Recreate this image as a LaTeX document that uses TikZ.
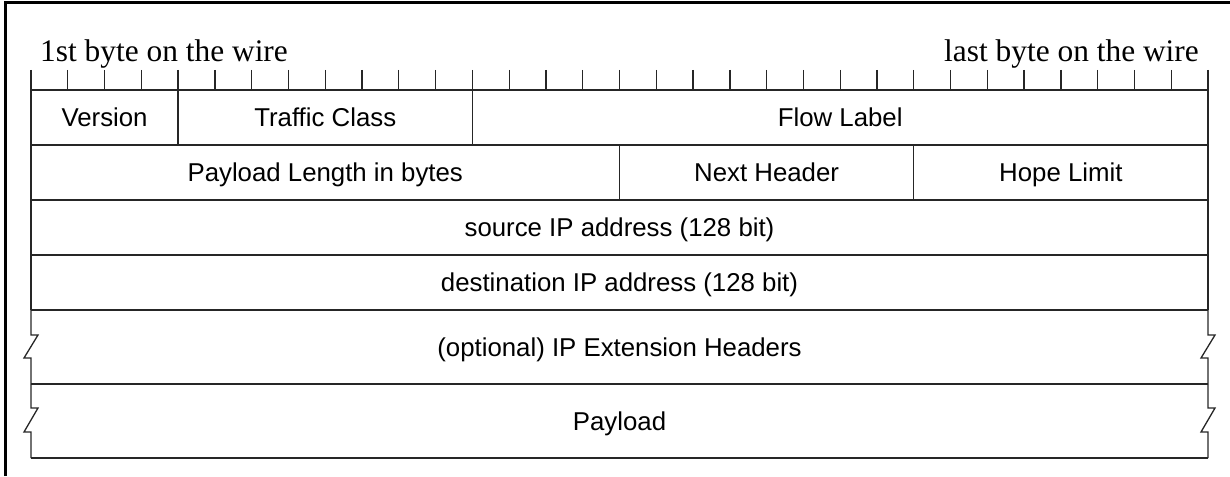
\documentclass[tikz,border=0pt]{standalone}
\usepackage{fontspec}
\setmainfont{Liberation Serif}
\newfontfamily\arialf{Liberation Sans}
\begin{document}
\begin{tikzpicture}[x=1pt,y=-1pt,
  gridline/.style={line width=1.3pt, black!85, line join=miter},
  framebar/.style={line width=3pt, black},
  celltext/.style={font=\arialf\fontsize{25.8}{30}\selectfont, anchor=base, inner sep=0pt},
  wiretext/.style={font=\fontsize{31.4}{36}\selectfont, inner sep=0pt}]
\useasboundingbox (0,0) rectangle (1230,476);
\pgfmathsetmacro{\bw}{1177/32}
% outer frame (top and left)
\draw[framebar] (5.5,476) -- (5.5,3) -- (1230,3);
% ruler ticks
\foreach \b in {0,...,32} \draw[gridline] ({31+\b*\bw},70) -- ({31+\b*\bw},90);
% horizontal lines
\foreach \yy in {90,145,200,255,310,384,458} \draw[gridline] (31,\yy) -- (1208,\yy);
% straight side borders for rows 1-4
\draw[gridline] (31,90) -- (31,310);
\draw[gridline] (1208,90) -- (1208,310);
% broken side borders for rows 5-6
\foreach \ya/\yb/\yc/\yd in {310/335/358/384, 384/408/432/458} {
  \draw[gridline] (31,\ya) -- (31,\yb) -- (38,\yb) -- (24,\yc) -- (31,\yc) -- (31,\yd);
  \draw[gridline] (1208,\ya) -- (1208,\yb) -- (1215,\yb) -- (1201,\yc) -- (1208,\yc) -- (1208,\yd);
}
% vertical dividers
\draw[gridline] ({31+4*\bw},90) -- ({31+4*\bw},145);
\draw[gridline] ({31+12*\bw},90) -- ({31+12*\bw},145);
\draw[gridline] ({31+16*\bw},145) -- ({31+16*\bw},200);
\draw[gridline] ({31+24*\bw},145) -- ({31+24*\bw},200);
% ruler labels
\node[wiretext, anchor=base west] (first) at (40,62) {1st byte on the wire};
\node[wiretext, anchor=base east] (last) at (1199,62) {last byte on the wire};
% cell labels
\node[celltext] (version) at ({31+2*\bw},126.7) {Version};
\node[celltext] (tclass) at ({31+8*\bw},126.7) {Traffic Class};
\node[celltext] (flow) at ({31+22*\bw},126.7) {Flow Label};
\node[celltext] (plen) at ({31+8*\bw},181.7) {Payload Length in bytes};
\node[celltext] (next) at ({31+20*\bw},181.7) {Next Header};
\node[celltext] (hop) at ({31+28*\bw},181.7) {Hope Limit};
\node[celltext] (src) at (619.5,236.7) {source IP address (128 bit)};
\node[celltext] (dst) at (619.5,291.7) {destination IP address (128 bit)};
\node[celltext] (ext) at (619.5,356.2) {(optional) IP Extension Headers};
\node[celltext] (payload) at (619.5,430.2) {Payload};
\end{tikzpicture}
\end{document}
